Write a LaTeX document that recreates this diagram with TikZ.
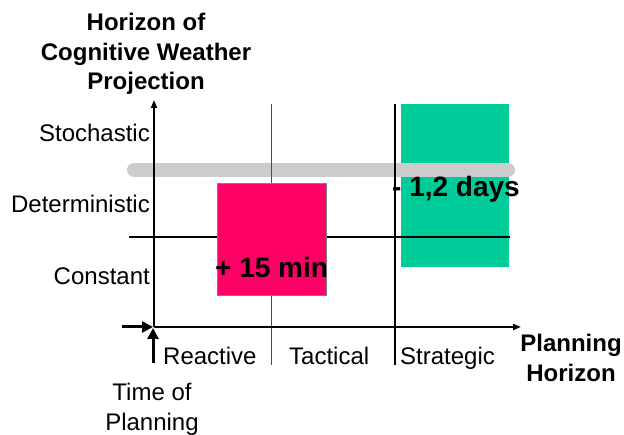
\documentclass[tikz,border=0pt]{standalone}
\usepackage{fontspec}
\setmainfont{Liberation Sans}
\usetikzlibrary{arrows.meta}
\definecolor{pinkbox}{HTML}{FF0066}
\definecolor{greenbox}{HTML}{00CC99}
\definecolor{graybar}{HTML}{CCCCCC}
\begin{document}
\begin{tikzpicture}[x=1pt,y=-1pt,
  lbl/.style={inner sep=0pt,font=\fontsize{24}{30}\selectfont},
  blbl/.style={inner sep=0pt,font=\fontsize{24}{29.5}\selectfont\bfseries,align=center},
  big/.style={inner sep=0pt,font=\fontsize{28}{32}\selectfont\bfseries},
  axis/.style={line width=1.8pt,-{Triangle[length=8pt,width=6pt]}},
  marker/.style={line width=3pt,-{Triangle[length=11pt,width=11pt]}},
  divider/.style={line width=1pt,color=black!70},
  thickdiv/.style={line width=2pt},
  hline/.style={line width=1.5pt}]
\useasboundingbox (0,0) rectangle (624,435);
% green box and gray bar
\fill[greenbox] (401,104) rectangle (509,267);
\draw[graybar,line width=14pt,line cap=round] (134,170) -- (508,170);
% grid lines
\coordinate (hl) at (129,237);
\coordinate (hr) at (510,237);
\draw[hline] (hl) -- (hr);
\coordinate (t1) at (271,104);
\coordinate (b1) at (271,365);
\draw[divider] (t1) -- (b1);
\coordinate (t2) at (395,104);
\coordinate (b2) at (395,365);
\draw[thickdiv] (t2) -- (b2);
% axes
\coordinate (o) at (154,327);
\coordinate (ytip) at (154,100);
\coordinate (xtip) at (521,327);
\draw[axis] (o) -- (ytip);
\draw[axis] (o) -- (xtip);
\coordinate (la) at (122,327);
\coordinate (le) at (153,327);
\draw[marker] (la) -- (le);
\coordinate (ua) at (153,363);
\coordinate (ue) at (153,328);
\draw[marker] (ua) -- (ue);
% pink box
\draw[fill=pinkbox,draw=black!50,line width=0.5pt] (217,183) rectangle (326,295);
% labels
\node[blbl] (title) at (146,54) {Horizon of\\Cognitive Weather\\Projection};
\node[lbl,anchor=base east] (sto) at (150,142) {Stochastic};
\node[lbl,anchor=base east] (det) at (150,213) {Deterministic};
\node[lbl,anchor=base east] (con) at (150,285) {Constant};
\node[lbl,anchor=base west] (rea) at (163,365) {Reactive};
\node[lbl,anchor=base west] (tac) at (289,365) {Tactical};
\node[lbl,anchor=base west] (str) at (400,365) {Strategic};
\node[blbl] (ph) at (571,358) {Planning\\Horizon};
\node[lbl,align=center] (tp) at (152,409) {Time of\\Planning};
\node[big,anchor=base west] (min) at (215,278) {+ 15 min};
\node[big,anchor=base west] (days) at (392,197) {- 1,2 days};
\end{tikzpicture}
\end{document}
